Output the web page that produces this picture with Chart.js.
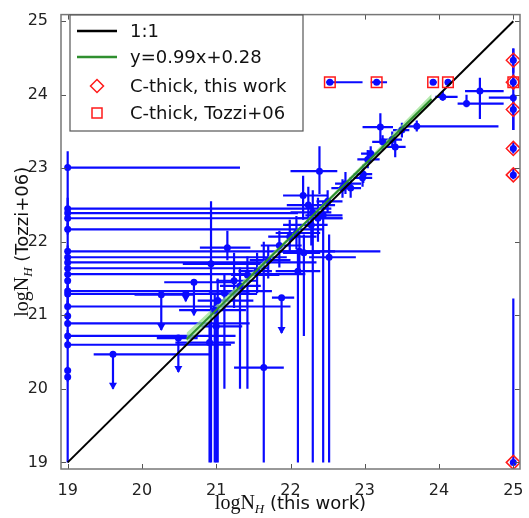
<!DOCTYPE html>
<html>
<head>
<meta charset="utf-8">
<script src="https://cdn.jsdelivr.net/npm/chart.js@4.4.1/dist/chart.umd.min.js"></script>
<style>
  body { margin: 0; background: #fff; }
  canvas { display: block; }
</style>
</head>
<body>
<canvas id="nhChart" width="529" height="518"></canvas>
<script>
// rows: [logNH this work, logNH Tozzi+06, xLow, xHigh, yLow, yHigh, upperLimit]
const undetectedRows = [
  [19, 23.01, 19, 21.32, 22.45, 23.23, 0],
  [19, 22.45, 19, 22.55, 22.30, 22.60, 0],
  [19, 22.39, 19, 22.10, 22.17, 22.45, 0],
  [19, 22.32, 19, 22.70, 22.10, 22.40, 0],
  [19, 22.17, 19, 22.45, 21.87, 22.25, 0],
  [19, 21.87, 19, 22.60, 21.70, 21.95, 0],
  [19, 21.79, 19, 21.95, 21.60, 21.86, 0],
  [19, 21.72, 19, 22.35, 21.50, 21.80, 0],
  [19, 21.64, 19, 21.70, 21.45, 21.72, 0],
  [19, 21.56, 19, 22.20, 21.33, 21.63, 0],
  [19, 21.47, 19, 19.00, 21.29, 21.53, 0],
  [19, 21.33, 19, 21.75, 21.12, 21.40, 0],
  [19, 21.29, 19, 21.55, 21.10, 21.36, 0],
  [19, 21.12, 19, 22.00, 20.95, 21.20, 0],
  [19, 20.99, 19, 19.00, 20.85, 21.05, 0],
  [19, 20.89, 19, 21.45, 20.70, 20.96, 0],
  [19, 20.72, 19, 21.26, 20.55, 20.80, 0],
  [19, 20.60, 19, 21.20, 20.25, 20.68, 0],
  [19, 20.25, 19, 19.00, 20.10, 20.30, 0],
  [19, 20.16, 19, 19.00, 19.00, 20.20, 0]
];

const upperLimitRows = [
  [19.61, 20.47, 19.35, 20.91, 20.00, 20.47, 1],
  [20.49, 20.69, 20.20, 20.75, 20.23, 20.69, 1],
  [20.26, 21.28, 19.90, 20.70, 20.80, 21.28, 1],
  [20.59, 21.29, 20.40, 20.80, 21.19, 21.29, 1],
  [20.70, 21.45, 20.30, 21.20, 21.00, 21.45, 1],
  [21.88, 21.24, 21.75, 22.05, 20.76, 21.24, 1]
];

const detectedRows = [
  [21.15, 21.92, 20.78, 21.46, 21.75, 22.15, 0],
  [21.24, 21.47, 21.00, 21.55, 21.10, 21.85, 0],
  [20.98, 21.07, 20.50, 21.40, 19.00, 21.30, 0],
  [20.91, 20.63, 20.45, 21.25, 19.00, 20.90, 0],
  [20.93, 21.70, 20.55, 21.60, 19.00, 22.55, 0],
  [21.00, 20.85, 20.80, 21.35, 19.00, 21.20, 0],
  [21.02, 21.20, 20.75, 21.50, 19.00, 21.50, 0],
  [21.11, 21.30, 20.90, 21.45, 20.00, 21.55, 0],
  [21.32, 21.40, 21.05, 21.60, 20.00, 21.65, 0],
  [21.42, 21.55, 21.20, 21.85, 20.00, 21.80, 0],
  [21.55, 21.60, 21.30, 21.75, 21.30, 21.85, 0],
  [21.64, 20.29, 21.24, 21.91, 19.00, 22.00, 0],
  [21.70, 21.75, 21.45, 22.00, 21.50, 21.95, 0],
  [21.85, 21.95, 21.60, 22.15, 21.65, 22.15, 0],
  [21.99, 22.07, 21.70, 22.35, 21.85, 22.30, 0],
  [22.08, 22.12, 21.80, 22.40, 21.90, 22.35, 0],
  [22.10, 21.60, 21.80, 22.40, 19.00, 21.90, 0],
  [22.18, 21.85, 21.90, 22.40, 20.72, 22.10, 0],
  [22.12, 21.87, 21.85, 23.21, 21.60, 22.10, 0],
  [22.17, 22.63, 21.90, 22.50, 22.30, 22.90, 0],
  [22.24, 22.50, 21.95, 22.60, 22.20, 22.75, 0],
  [22.30, 22.40, 22.00, 22.55, 19.00, 22.70, 0],
  [22.37, 22.32, 22.10, 22.70, 22.00, 22.60, 0],
  [22.28, 22.23, 21.90, 22.50, 21.95, 22.50, 0],
  [22.44, 22.36, 22.20, 22.70, 19.00, 22.55, 0],
  [22.39, 22.96, 22.00, 22.63, 22.65, 23.30, 0],
  [22.52, 21.79, 22.25, 22.88, 19.00, 22.10, 0],
  [22.50, 22.55, 22.35, 22.70, 22.40, 22.70, 0],
  [22.70, 22.73, 22.55, 22.85, 22.60, 22.85, 0],
  [22.74, 22.79, 22.60, 22.95, 22.65, 22.95, 0],
  [22.81, 22.73, 22.65, 22.95, 22.60, 22.88, 0],
  [22.97, 22.87, 22.85, 23.10, 22.75, 23.00, 0],
  [22.98, 22.92, 22.85, 23.10, 22.80, 23.05, 0],
  [23.04, 23.12, 22.90, 23.20, 23.00, 23.25, 0],
  [23.08, 23.20, 22.95, 23.20, 23.10, 23.30, 0],
  [23.24, 23.36, 23.10, 23.35, 23.25, 23.45, 0],
  [23.37, 23.39, 23.25, 23.50, 23.30, 23.50, 0],
  [23.41, 23.29, 23.30, 23.55, 23.15, 23.40, 0],
  [23.50, 23.52, 23.38, 23.60, 23.42, 23.62, 0],
  [23.21, 23.56, 22.97, 23.38, 23.38, 23.75, 0],
  [23.70, 23.57, 23.55, 24.80, 23.50, 23.65, 0],
  [24.05, 23.97, 23.95, 24.25, 23.92, 24.05, 0],
  [24.37, 23.88, 24.25, 24.87, 23.83, 24.00, 0],
  [24.55, 24.05, 24.35, 24.87, 23.67, 24.23, 0],
  [25.00, 23.96, 24.67, 25.00, 23.52, 24.63, 0]
];

const thickRows = [
  [25.00, 24.47, 25.00, 25.00, 24.30, 24.63, 0],
  [25.00, 24.17, 25.00, 25.00, 24.10, 24.25, 0],
  [25.00, 23.80, 25.00, 25.00, 23.52, 23.95, 0],
  [25.00, 23.27, 25.00, 25.00, 23.20, 23.35, 0],
  [25.00, 22.91, 25.00, 25.00, 22.85, 23.00, 0],
  [25.00, 19.00, 25.00, 25.00, 19.00, 21.23, 0],
  [22.53, 24.17, 22.48, 22.97, 24.17, 24.17, 0],
  [23.16, 24.17, 23.08, 23.30, 24.17, 24.17, 0],
  [23.92, 24.17, 23.88, 23.97, 24.17, 24.17, 0],
  [24.12, 24.17, 24.08, 24.15, 24.17, 24.17, 0]
];

// Compton-thick flags
const thickThisWorkX = [25, 25, 25, 25, 25, 25];
const thickThisWorkY = [24.47, 24.17, 23.80, 23.27, 22.91, 19.00];
const thickTozziX = [22.53, 23.16, 23.92, 24.12, 25.00];
const thickTozziY = [24.17, 24.17, 24.17, 24.17, 24.17];

// linear fit and its uncertainty band
const fitSlope = 0.99;
const fitIntercept = 0.28;
const fitRange = [20.6, 23.9];
const bandX = [20.6, 21.5, 22.3, 23.2, 23.9];
const bandHalfWidth = [0.09, 0.04, 0.02, 0.04, 0.07];

const identityLine = [19, 25];
const axisTicks = [19, 20, 21, 22, 23, 24, 25];

const allRows = undetectedRows.concat(upperLimitRows, detectedRows, thickRows);
const BLUE = '#0a0aff';
const RED = '#ff1a1a';
const GREEN = '#2f8f2f';

const fitPoints = fitRange.map(v => ({ x: v, y: fitSlope * v + fitIntercept }));
const bandUpper = bandX.map((v, i) => ({ x: v, y: fitSlope * v + fitIntercept + bandHalfWidth[i] }));
const bandLower = bandX.map((v, i) => ({ x: v, y: fitSlope * v + fitIntercept - bandHalfWidth[i] }));

const errorBars = {
  id: 'errorBars',
  beforeDatasetsDraw(chart) {
    const { ctx, chartArea, scales: { x, y } } = chart;
    ctx.save();
    ctx.beginPath();
    ctx.rect(chartArea.left, chartArea.top, chartArea.right - chartArea.left, chartArea.bottom - chartArea.top);
    ctx.clip();
    ctx.strokeStyle = BLUE;
    ctx.fillStyle = BLUE;
    ctx.lineWidth = 2.2;
    allRows.forEach(r => {
      const px = x.getPixelForValue(r[0]);
      const py = y.getPixelForValue(r[1]);
      ctx.beginPath();
      ctx.moveTo(x.getPixelForValue(r[2]), py);
      ctx.lineTo(x.getPixelForValue(r[3]), py);
      ctx.moveTo(px, y.getPixelForValue(r[4]));
      ctx.lineTo(px, y.getPixelForValue(r[5]));
      ctx.stroke();
      if (r[6]) {
        const ay = y.getPixelForValue(r[4]);
        ctx.beginPath();
        ctx.moveTo(px - 4, ay - 6);
        ctx.lineTo(px + 4, ay - 6);
        ctx.lineTo(px, ay + 1);
        ctx.closePath();
        ctx.fill();
      }
    });
    ctx.restore();
  }
};

const frameAndLabels = {
  id: 'frameAndLabels',
  afterDraw(chart) {
    const { ctx, chartArea: a, scales: { x, y } } = chart;
    ctx.save();
    // inward tick marks on every side
    ctx.strokeStyle = '#555';
    ctx.lineWidth = 1;
    ctx.beginPath();
    axisTicks.forEach(t => {
      const px = Math.round(x.getPixelForValue(t)) + 0.5;
      const py = Math.round(y.getPixelForValue(t)) + 0.5;
      ctx.moveTo(px, a.bottom); ctx.lineTo(px, a.bottom - 5);
      ctx.moveTo(px, a.top); ctx.lineTo(px, a.top + 5);
      ctx.moveTo(a.left, py); ctx.lineTo(a.left + 5, py);
      ctx.moveTo(a.right, py); ctx.lineTo(a.right - 5, py);
    });
    ctx.stroke();
    ctx.strokeStyle = '#777';
    ctx.lineWidth = 1.5;
    ctx.strokeRect(a.left, a.top, a.right - a.left, a.bottom - a.top);

    // legend box
    const lx = 70, ly = 15, lw = 233, lh = 116;
    ctx.fillStyle = '#fff';
    ctx.fillRect(lx, ly, lw, lh);
    ctx.strokeStyle = '#555';
    ctx.lineWidth = 1.2;
    ctx.strokeRect(lx, ly, lw, lh);
    const rows = [31, 57, 86, 113];
    ctx.lineWidth = 2.5;
    ctx.strokeStyle = '#000';
    ctx.beginPath(); ctx.moveTo(77, rows[0]); ctx.lineTo(117, rows[0]); ctx.stroke();
    ctx.strokeStyle = GREEN;
    ctx.beginPath(); ctx.moveTo(77, rows[1]); ctx.lineTo(117, rows[1]); ctx.stroke();
    ctx.strokeStyle = RED;
    ctx.lineWidth = 1.5;
    ctx.beginPath();
    ctx.moveTo(97, rows[2] - 6.5); ctx.lineTo(103.5, rows[2]);
    ctx.lineTo(97, rows[2] + 6.5); ctx.lineTo(90.5, rows[2]); ctx.closePath();
    ctx.stroke();
    ctx.strokeRect(92, rows[3] - 5, 10, 10);
    ctx.fillStyle = '#111';
    ctx.font = '18px "DejaVu Sans"';
    ctx.textBaseline = 'middle';
    ctx.textAlign = 'left';
    ['1:1', 'y=0.99x+0.28', 'C-thick, this work', 'C-thick, Tozzi+06'].forEach((t, i) => {
      ctx.fillText(t, 130, rows[i] + 1);
    });

    // axis titles with math-style logN_H
    const drawTitle = (tail, cx, cy, rotate) => {
      ctx.save();
      ctx.translate(cx, cy);
      if (rotate) ctx.rotate(-Math.PI / 2);
      const f1 = '20px "Liberation Serif"';
      const f2 = 'italic 13px "Liberation Serif"';
      const f3 = '18px "DejaVu Sans"';
      ctx.font = f1; const w1 = ctx.measureText('logN').width;
      ctx.font = f2; const w2 = ctx.measureText('H').width;
      ctx.font = f3; const w3 = ctx.measureText(tail).width;
      let sx = -(w1 + w2 + w3) / 2;
      ctx.textBaseline = 'alphabetic';
      ctx.fillStyle = '#111';
      ctx.font = f1; ctx.fillText('logN', sx, 6); sx += w1;
      ctx.font = f2; ctx.fillText('H', sx, 10); sx += w2;
      ctx.font = f3; ctx.fillText(tail, sx, 6);
      ctx.restore();
    };
    drawTitle(' (this work)', (a.left + a.right) / 2, 503, false);
    drawTitle(' (Tozzi+06)', 22, (a.top + a.bottom) / 2, true);
    ctx.restore();
  }
};

new Chart(document.getElementById('nhChart'), {
  type: 'scatter',
  data: {
    datasets: [
      {
        label: 'band',
        type: 'line',
        data: bandUpper,
        borderWidth: 0,
        pointRadius: 0,
        backgroundColor: 'rgba(150,225,140,0.7)',
        fill: '+1',
        order: 6
      },
      {
        label: 'bandLow',
        type: 'line',
        data: bandLower,
        borderWidth: 0,
        pointRadius: 0,
        fill: false,
        order: 6
      },
      {
        label: 'sources',
        data: allRows.map(r => ({ x: r[0], y: r[1] })),
        pointRadius: 3.5,
        pointBackgroundColor: BLUE,
        pointBorderWidth: 0,
        order: 5
      },
      {
        label: 'y=0.99x+0.28',
        type: 'line',
        data: fitPoints,
        borderColor: GREEN,
        borderWidth: 2,
        pointRadius: 0,
        order: 4
      },
      {
        label: '1:1',
        type: 'line',
        data: identityLine.map(v => ({ x: v, y: v })),
        borderColor: '#000',
        borderWidth: 2,
        pointRadius: 0,
        order: 3
      },
      {
        label: 'C-thick, Tozzi+06',
        data: thickTozziX.map((v, i) => ({ x: v, y: thickTozziY[i] })),
        pointStyle: 'rect',
        pointRadius: 7.5,
        pointBorderColor: RED,
        pointBackgroundColor: 'rgba(0,0,0,0)',
        pointBorderWidth: 1.5,
        order: 2
      },
      {
        label: 'C-thick, this work',
        data: thickThisWorkX.map((v, i) => ({ x: v, y: thickThisWorkY[i] })),
        pointStyle: 'rectRot',
        pointRadius: 7,
        pointBorderColor: RED,
        pointBackgroundColor: 'rgba(0,0,0,0)',
        pointBorderWidth: 1.5,
        order: 1
      }
    ]
  },
  options: {
    responsive: false,
    devicePixelRatio: 1,
    animation: false,
    layout: { padding: { top: 5, right: 1, left: 0, bottom: 0 } },
    scales: {
      x: {
        type: 'linear',
        min: 18.91,
        max: 25.09,
        afterFit: s => { s.height = 49; },
        grid: { display: false },
        border: { display: false },
        ticks: {
          stepSize: 1,
          includeBounds: false,
          maxRotation: 0,
          padding: 4,
          color: '#222',
          font: { family: '"DejaVu Sans"', size: 16 },
          callback: v => Number.isInteger(v) ? v : ''
        }
      },
      y: {
        type: 'linear',
        min: 18.91,
        max: 25.09,
        afterFit: s => { s.width = 61; },
        grid: { display: false },
        border: { display: false },
        ticks: {
          stepSize: 1,
          includeBounds: false,
          padding: 5,
          color: '#222',
          font: { family: '"DejaVu Sans"', size: 16 },
          callback: v => Number.isInteger(v) ? v : ''
        }
      }
    },
    plugins: {
      legend: { display: false },
      tooltip: { enabled: false }
    }
  },
  plugins: [errorBars, frameAndLabels]
});
</script>
</body>
</html>
